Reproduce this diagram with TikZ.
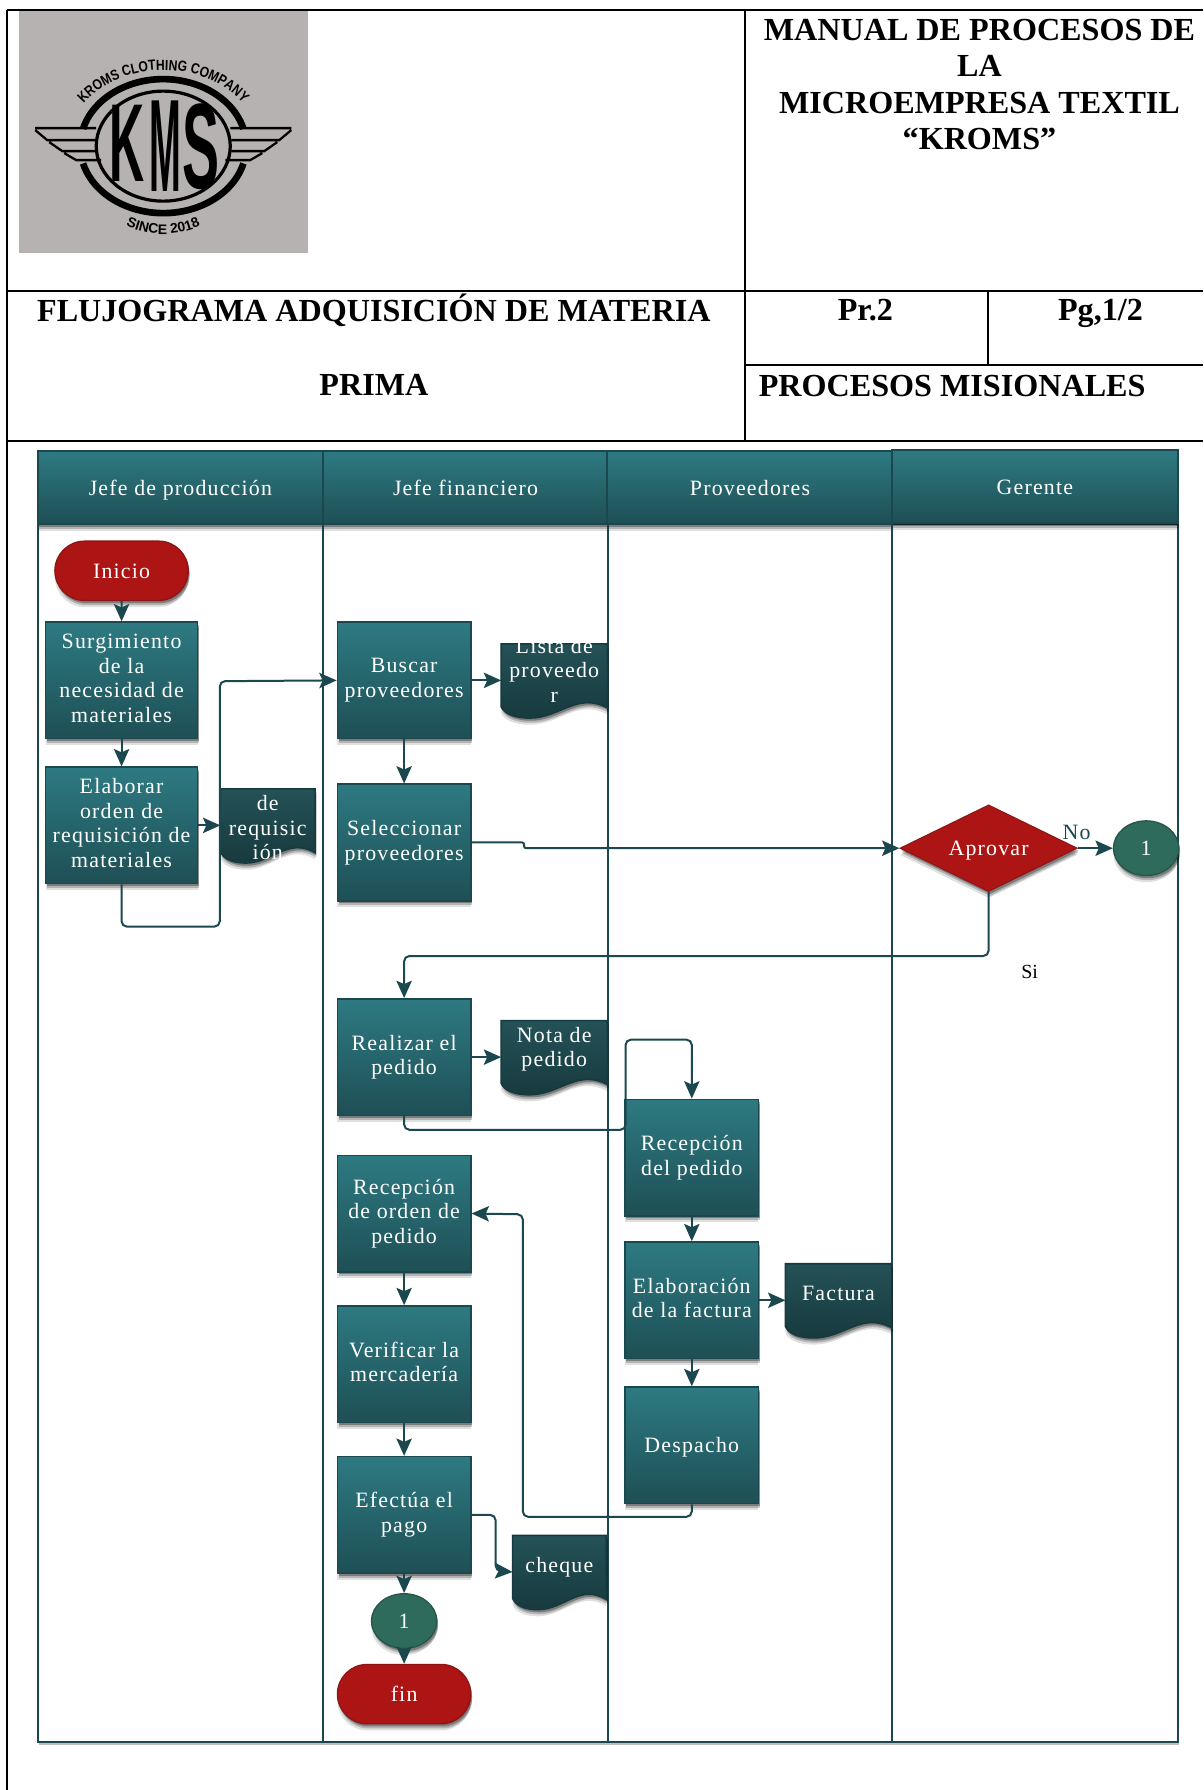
\documentclass[tikz,border=0pt]{standalone}
\usepackage{fontspec}
\setmainfont{Liberation Serif}
\newfontfamily\flowfont[LetterSpace=5.5]{Liberation Serif}
\newfontfamily\logofont{Liberation Sans}
\newfontfamily\logocond[FakeStretch=0.83]{Liberation Sans}
\usetikzlibrary{arrows.meta,shadows,shapes.geometric,shapes.misc,decorations.text}
\definecolor{lanedark}{HTML}{1B484E}
\definecolor{stepup}{HTML}{2E7A82}
\definecolor{stepdown}{HTML}{1E4F55}
\definecolor{docup}{HTML}{245257}
\definecolor{docdown}{HTML}{173A3E}
\definecolor{redfill}{HTML}{AD1414}
\definecolor{redline}{HTML}{8E1515}
\definecolor{greenfill}{HTML}{2F6B5C}
\definecolor{logogray}{HTML}{B5B2B1}
\tikzset{
	softshadow/.style={
		drop shadow={shadow xshift=0pt,shadow yshift=-5pt,opacity=0.12,fill=black},
		drop shadow={shadow xshift=1pt,shadow yshift=-3.5pt,opacity=0.2,fill=black},
		drop shadow={shadow xshift=1pt,shadow yshift=-2pt,opacity=0.3,fill=black}},
	flowtext/.style={font={\fontsize{16.4}{18.4}\selectfont\flowfont},text=white,align=center,inner sep=0,execute at begin node={\rule{0pt}{15pt}},execute at end node={\rule[-3.4pt]{0pt}{3.4pt}}},
	tableline/.style={line width=1.5pt,color=black},
	titletext/.style={font={\fontsize{24.1}{27.4}\selectfont\bfseries},align=center,inner sep=0},
	lanehead/.style={flowtext,draw=lanedark,line width=1.5pt,top color=stepup,bottom color=stepdown,minimum width=214pt,minimum height=54.8pt,softshadow},
	lanebody/.style={draw=lanedark,line width=1.5pt,fill=white,drop shadow={shadow xshift=1pt,shadow yshift=-2pt,opacity=0.25,fill=black}},
	stepbox/.style={flowtext,draw=lanedark,line width=1.2pt,top color=stepup,bottom color=stepdown,minimum width=100pt,minimum height=87.3pt,softshadow},
	widebox/.style={stepbox,minimum width=114pt},
	endbox/.style={flowtext,rounded rectangle,draw=redline,line width=1pt,fill=redfill,minimum width=100pt,minimum height=44.5pt,softshadow},
	joinmark/.style={flowtext,ellipse,draw=greenfill!80!black,line width=1pt,fill=greenfill,minimum width=49pt,minimum height=41pt,softshadow},
	docshape/.style={draw=docdown,line width=1.2pt,top color=docup,bottom color=docdown,softshadow},
	flowline/.style={draw=lanedark,line width=1.5pt,rounded corners=4pt,-{Stealth[length=13pt,width=11.5pt,inset=2.5pt]}},
	logoline/.style={line width=1.7pt,color=black},
	logoletter/.style={transform shape,font={\fontsize{26}{26}\selectfont\bfseries\logofont},inner sep=0},
}
\begin{document}
\begin{tikzpicture}[x=0.856pt,y=-0.856pt]
	\useasboundingbox (0,0) rectangle (1054,1568);
	\fill [color=logogray] (17,10) rectangle (270,222);
	\begin{scope}[shift={(143,128)},x=0.75pt,y=-0.75pt]
		\draw [color=black,line width=5pt] (195:83 and 67) arc [start angle=195,end angle=345,x radius=83,y radius=67];
		\draw [color=black,line width=5pt] (15:83 and 67) arc [start angle=15,end angle=165,x radius=83,y radius=67];
		\draw [color=black,line width=2.4pt] (0,0) ellipse [x radius=67,y radius=55];
		\foreach \s in {1,-1}{
			\begin{scope}[xscale=\s]
				\draw [logoline] (-128,-18) -- (-67,-18) (-128,-16) -- (-116,-6) -- (-68,-6) (-114,-4) -- (-101,5) -- (-68,5) (-99,7) -- (-87,14) -- (-62,14);
			\end{scope}
		}
		\node [xscale=1.4,yscale=3.2,logoletter] at (-36,-3) (logok) {K};
		\node [xscale=1.1,yscale=3.8,logoletter] at (2,0) (logom) {M};
		\node [xscale=1.6,yscale=3.5,logoletter] at (38,0.5) (logos) {S};
		\path [decorate,decoration={text along path,text align=center,text={|\fontsize{11}{11}\selectfont\bfseries\logocond|KROMS CLOTHING COMPANY}}] (195:96 and 76) arc [start angle=195,end angle=345,x radius=96,y radius=76];
		\path [decorate,decoration={text along path,text align=center,text={|\fontsize{10.4}{11}\selectfont\bfseries\logofont|SINCE 2018}}] (125:88) arc [start angle=125,end angle=55,radius=88];
	\end{scope}
	\draw [tableline] (6,9) -- (6,1568) (6,9) -- (1054,9) (6,255) -- (1054,255) (6,386) -- (1054,386);
	\draw [tableline] (652.5,9) -- (652.5,386) (865.5,255) -- (865.5,320) (652.5,320) -- (1054,320);
	\node [titletext] at (858,74) (manualtitle) {MANUAL DE PROCESOS DE\\LA\\MICROEMPRESA TEXTIL\\“KROMS”};
	\node [titletext] at (327.5,272) (flujotitle) {FLUJOGRAMA ADQUISICIÓN DE MATERIA};
	\node [titletext] at (327.5,337) (primatitle) {PRIMA};
	\node [titletext,anchor=base] at (758,281) (codetitle) {Pr.2};
	\node [titletext,anchor=base] at (964,281) (pagetitle) {Pg,1/2};
	\node [titletext,anchor=west] at (664.5,338) (misiontitle) {PROCESOS MISIONALES};
	\foreach \n/\a/\b/\y/\t in {laneprod/33/283/427/Jefe de producción, lanefin/283/532.5/427/Jefe financiero, laneprov/532.5/781.5/427/Proveedores, lanegte/781.5/1031.5/426/Gerente}{
		\draw [lanebody] (\a,459) rectangle (\b,1526);
		\node [lanehead] at ({(\a+\b)/2},\y) (\n) {\t};
	}
	\node [endbox] at (106.5,500) (inicio) {Inicio};
	\foreach \n/\x/\y/\t in {surgim/106.5/596/{Surgimiento\\de la\\necesidad de\\materiales}, elabor/106.5/723/{Elaborar\\orden de\\requisición de\\materiales}}{
		\node [widebox] at (\x,\y) (\n) {\t};
	}
	\foreach \n/\x/\y/\t in {buscar/354/596/{Buscar\\proveedores}, selecc/354/738/{Seleccionar\\proveedores}, realiz/354/926/{Realizar el\\pedido}, recorden/354/1063/{Recepción\\de orden de\\pedido}, verifica/354/1195/{Verificar la\\mercadería}, efectua/354/1327/{Efectúa el\\pago}, recpedido/606/1014/{Recepción\\del pedido}, elabfac/606/1139/{Elaboración\\de la factura}, despacho/606/1266/{Despacho}}{
		\node [stepbox] at (\x,\y) (\n) {\t};
	}
	\foreach \n/\x/\y/\w/\o/\t in {docorden/193/691/83/36/{de\\requisic\\ión}, doclista/439/564/93/25/{Lista de\\proveedo\\r}, docnota/439/894/93/25/{Nota de\\pedido}, docfactura/688/1107/93/25/{Factura}, doccheque/449/1345/82/26/{cheque}}{
		\path [docshape] (\x,\y) -- (\x+\w,\y) -- (\x+\w,\y+56) .. controls (\x+0.72*\w,\y+42) and (\x+0.55*\w,\y+65) .. (\x+0.27*\w,\y+65) .. controls (\x+0.12*\w,\y+65) and (\x+0.03*\w,\y+61) .. (\x,\y+55) -- cycle;
		\coordinate (\n-in) at (\x,\y+32);
		\node [flowtext] at (\x+0.5*\w,\y+\o) (\n) {\t};
	}
	\node [flowtext,diamond,aspect=2,draw=redline,line width=0.8pt,fill=redfill,minimum width=133pt,minimum height=65pt,softshadow] at (866,743) (aprovar) {Aprovar};
	\node [joinmark] at (1004,743) (joinright) {1};
	\node [flowtext,text=lanedark] at (943,729) (nolabel) {No};
	\node [font={\fontsize{15}{18}\selectfont}] at (902,851) (silabel) {Si};
	\node [joinmark] at (354,1420) (joinleft) {1};
	\node [endbox] at (354,1484) (fin) {fin};
	\draw [flowline] (inicio) -- (inicio |- surgim.north);
	\draw [flowline] (surgim) -- (elabor);
	\draw [flowline] (elabor.east) -- (docorden-in);
	\draw [flowline] (elabor.south) -- ++(0,37) -- ++(86,0) -- ++(0,-215) -- (buscar.west);
	\draw [flowline] (buscar.east) -- (doclista-in);
	\draw [flowline] (buscar) -- (selecc);
	\draw [flowline,rounded corners=1.5pt] (selecc.east) -- ++(46,0) -- ++(0,5) -- (aprovar.west);
	\draw [flowline] (aprovar.east) -- (joinright.west);
	\draw [flowline] (aprovar.south) -- ++(0,56) -- ++(-512,0) -- (realiz.north);
	\draw [flowline] (realiz.east) -- (docnota-in);
	\draw [flowline] (realiz.south) -- ++(0,12) -- ++(194,0) -- ++(0,-79) -- ++(58,0) -- (recpedido.north);
	\draw [flowline] (recpedido) -- (elabfac);
	\draw [flowline] (elabfac.east) -- (docfactura-in);
	\draw [flowline] (elabfac) -- (despacho);
	\draw [flowline] (despacho.south) -- ++(0,11) -- ++(-148,0) -- ++(0,-265) -- (recorden.east);
	\draw [flowline] (recorden) -- (verifica);
	\draw [flowline] (verifica) -- (efectua);
	\draw [flowline] (efectua.east) -- ++(21,0) -- ++(0,49) -- (doccheque-in);
	\draw [flowline] (efectua) -- (joinleft);
	\draw [flowline] (joinleft) -- (fin);
\end{tikzpicture}
\end{document}
